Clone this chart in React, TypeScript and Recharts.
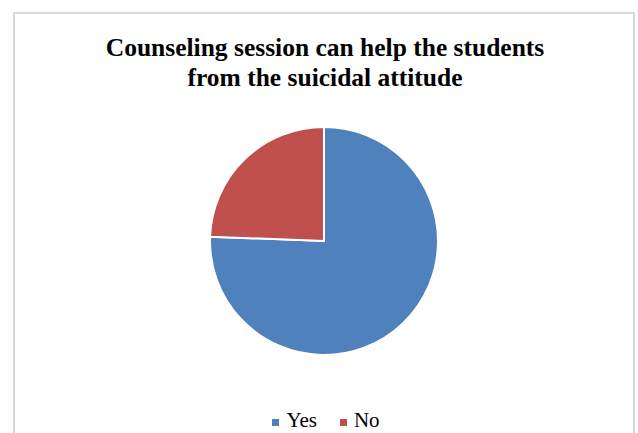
import React from 'react';
import { PieChart, Pie, Cell, Legend } from 'recharts';

const categories = ['Yes', 'No'];
const values = [75.6, 24.4];
const colors = ['#4F81BD', '#C0504D'];

const data = categories.map((name, i) => ({ name, value: values[i] }));

// keep the legend in data order (Recharts sorts it by name otherwise)
const renderLegend = () => (
    <div style={{ display: 'flex', justifyContent: 'center', gap: 23, fontFamily: '"Liberation Serif", serif', fontSize: 21, color: '#000' }}>
        {categories.map((name, i) => (
            <div key={name} style={{ display: 'flex', alignItems: 'center' }}>
                <span style={{ display: 'inline-block', width: 7, height: 7, background: colors[i], marginRight: 7, marginTop: 3 }} />
                <span>{name}</span>
            </div>
        ))}
    </div>
);

const App = () => {
    return (
        <div style={{ position: 'fixed', left: 0, top: 0, width: 638, height: 433, background: '#fff', overflow: 'hidden' }}>
            <div
                style={{
                    position: 'absolute',
                    left: 13,
                    top: 12,
                    width: 618,
                    height: 440,
                    border: '2px solid #d9d9d9',
                }}
            />
            <div
                style={{
                    position: 'absolute',
                    left: 14,
                    top: 33,
                    width: 622,
                    textAlign: 'center',
                    fontFamily: '"Liberation Serif", serif',
                    fontWeight: 'bold',
                    fontSize: 25.5,
                    lineHeight: '30px',
                    color: '#000',
                }}
            >
                Counseling session can help the students
                <br />
                from the suicidal attitude
            </div>
            <PieChart
                width={638}
                height={433}
                margin={{ top: 0, right: 0, bottom: 0, left: 0 }}
                style={{ position: 'absolute', left: 0, top: 0 }}
            >
                <Pie
                    data={data}
                    dataKey="value"
                    nameKey="name"
                    cx={324}
                    cy={241}
                    outerRadius={114}
                    startAngle={90}
                    endAngle={-270}
                    stroke="#fff"
                    strokeWidth={2}
                    isAnimationActive={false}
                >
                    {data.map((d, i) => (
                        <Cell key={d.name} fill={colors[i]} />
                    ))}
                </Pie>
                <Legend
                    content={renderLegend}
                    wrapperStyle={{ position: 'absolute', left: 0, top: 408, width: 652 }}
                />
            </PieChart>
        </div>
    );
};

export default App;
